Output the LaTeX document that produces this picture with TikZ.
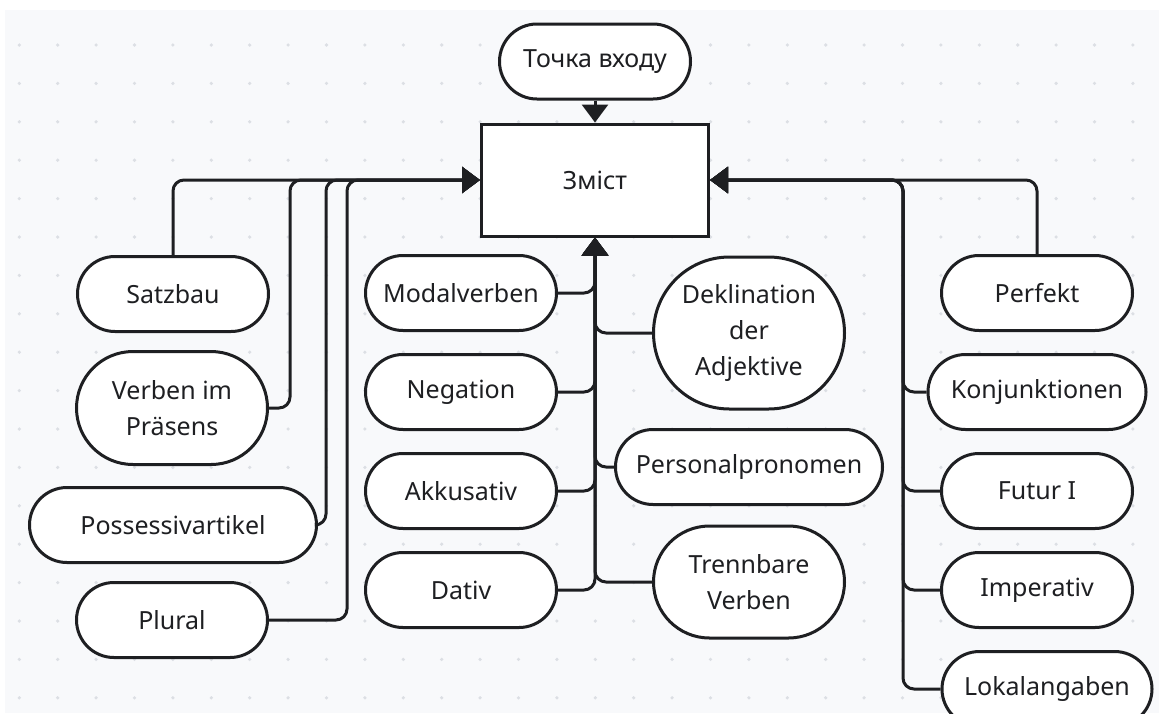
\documentclass[tikz,border=0pt]{standalone}
\usepackage{fontspec}
\setmainfont{Noto Sans}
\usetikzlibrary{arrows.meta,positioning,shapes.misc}
\definecolor{ink}{HTML}{1E1F22}
\definecolor{paper}{HTML}{F8F9FB}
\definecolor{dotc}{HTML}{DCDFE4}
\tikzset{
  pill/.style={rounded rectangle, draw=ink, line width=3pt, fill=white, text=ink, align=center, font=\fontsize{25}{36}\selectfont, inner sep=0pt, minimum height=75pt, minimum width=191pt},
  mainbox/.style={rectangle, draw=ink, line width=3pt, fill=white, text=ink, font=\fontsize{25}{36}\selectfont, minimum width=227pt, minimum height=112pt},
  conn/.style={-{Triangle[length=18pt,width=26pt]}, line width=3pt, draw=ink, rounded corners=11pt}
}

\begin{document}
\begin{tikzpicture}[x=1pt,y=-1pt]
\useasboundingbox (0,0) rectangle (1159,713);
\fill[paper] (5,10) rectangle (1159,713);
\foreach \i in {0,...,29} \foreach \j in {0,...,17} \fill[dotc] (19.3+38.4*\i,45+38.4*\j) circle (1.8pt);

\node[mainbox] (inhalt) at (595,180) {Зміст};
\node[pill, above=22pt of inhalt] (start) {Точка входу};

% left group
\node[pill] (satz) at (173,294) {Satzbau};
\node[pill, minimum height=113pt] (verb) at (172,408) {Verben im\\Präsens};
\node[pill, minimum width=287pt] (poss) at (173,525) {Possessivartikel};
\node[pill] (plural) at (172,620) {Plural};

% middle group
\node[pill] (modal) at (461,293) {Modalverben};
\node[pill, below=21pt of modal] (neg) {Negation};
\node[pill, below=21pt of neg] (akk) {Akkusativ};
\node[pill, below=21pt of akk] (dativ) {Dativ};
\node[pill, minimum height=152pt] (dekl) at (749,333) {Deklination\\der\\Adjektive};
\node[pill, minimum width=267pt] (pers) at (749,467) {Personalpronomen};
\node[pill, minimum height=112pt] (trenn) at (749,582) {Trennbare\\Verben};

% right group
\node[pill] (perf) at (1037,293) {Perfekt};
\node[pill, minimum width=218pt, below=21pt of perf] (konj) {Konjunktionen};
\node[pill, below=21pt of konj] (futur) {Futur I};
\node[pill, below=21pt of futur] (imper) {Imperativ};
\node[pill, minimum width=210pt, below=21pt of imper, xshift=10pt] (lokal) {Lokalangaben};
\coordinate (rbus) at ([xshift=193pt]inhalt.east);

\draw[conn] (start) -- (inhalt);
\draw[conn] (satz.north) |- (inhalt.west);
\draw[conn] (verb.east) -- ++(21,0) |- (inhalt.west);
\draw[conn] (poss.east) -- ++(8,0) |- (inhalt.west);
\draw[conn] (plural.east) -- ++(78,0) |- (inhalt.west);
\foreach \n in {modal,neg,akk,dativ} \draw[conn] (\n.east) -| (inhalt.south);
\foreach \n in {dekl,pers,trenn} \draw[conn] (\n.west) -| (inhalt.south);
\draw[conn] (perf.north) |- (inhalt.east);
\foreach \n in {konj,futur,imper,lokal} \draw[conn] (\n.west) -| (rbus) -- (inhalt.east);
\end{tikzpicture}
\end{document}
